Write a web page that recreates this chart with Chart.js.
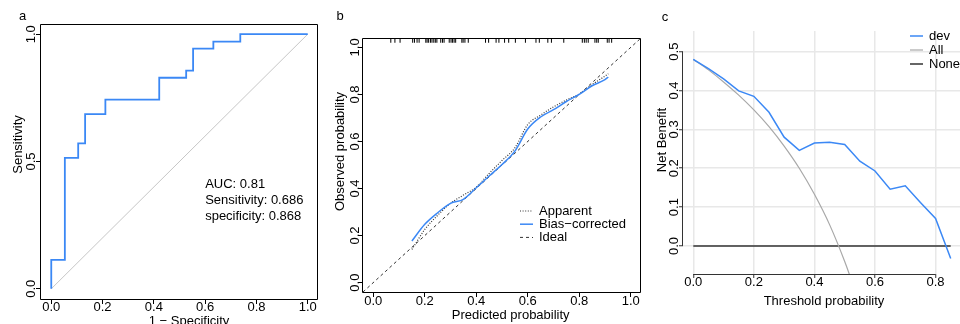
<!DOCTYPE html>
<html>
<head>
<meta charset="utf-8">
<script src="https://cdn.jsdelivr.net/npm/chart.js@4.4.1/dist/chart.umd.min.js"></script>
<style>
  html, body { margin: 0; padding: 0; width: 960px; height: 324px; overflow: hidden; background: #fff; }
  canvas { position: absolute; top: 0; }
</style>
</head>
<body>
<canvas id="rocChart" style="left:0px" width="330" height="324"></canvas>
<canvas id="calChart" style="left:330px" width="320" height="324"></canvas>
<canvas id="dcaChart" style="left:650px" width="312" height="324"></canvas>
<script>
// a: ROC curve (1 - specificity, sensitivity)
const rocFpr = [0, 0, 0.053, 0.105, 0.132, 0.211, 0.421, 0.526, 0.553, 0.632, 0.737, 1];
const rocTpr = [0, 0.114, 0.514, 0.571, 0.686, 0.743, 0.829, 0.857, 0.943, 0.971, 1, 1];
const diagX = [0, 1];
const diagY = [0, 1];
const rocXTicks = [0, 0.2, 0.4, 0.6, 0.8, 1.0];
const rocYTicks = [0, 0.5, 1.0];
const aucLines = ['AUC: 0.81', 'Sensitivity: 0.686', 'specificity: 0.868'];

// b: calibration curve
const calPred = [0.15, 0.2, 0.25, 0.3, 0.35, 0.4, 0.45, 0.5, 0.55, 0.6, 0.65, 0.7, 0.75, 0.8, 0.85, 0.9, 0.913];
const calApparent = [0.141, 0.226, 0.286, 0.337, 0.372, 0.406, 0.464, 0.519, 0.573, 0.672, 0.712, 0.747, 0.776, 0.802, 0.842, 0.878, 0.888];
const calBiasCorrected = [0.177, 0.248, 0.297, 0.337, 0.354, 0.403, 0.453, 0.502, 0.559, 0.653, 0.704, 0.735, 0.770, 0.800, 0.837, 0.863, 0.874];
const idealX = [-0.04, 1.04];
const idealY = [-0.04, 1.04];
const rugPred = [0.068, 0.084, 0.104, 0.153, 0.160, 0.170, 0.178, 0.204, 0.209, 0.215, 0.222, 0.228, 0.235, 0.241, 0.247,
  0.262, 0.269, 0.275, 0.295, 0.302, 0.308, 0.314, 0.320, 0.344, 0.349, 0.356, 0.369, 0.436, 0.448, 0.477, 0.488,
  0.510, 0.526, 0.552, 0.591, 0.632, 0.645, 0.678, 0.692, 0.740, 0.812, 0.820, 0.827, 0.835, 0.861, 0.868, 0.874,
  0.909, 0.916, 0.926];
const calTicks = [0, 0.2, 0.4, 0.6, 0.8, 1.0];

// c: decision curve
const thresholds = [0, 0.05, 0.1, 0.15, 0.2, 0.25, 0.3, 0.35, 0.4, 0.45, 0.5, 0.55, 0.6, 0.65, 0.7, 0.75, 0.8, 0.85];
const nbDev = [0.48, 0.456, 0.430, 0.399, 0.385, 0.344, 0.280, 0.246, 0.265, 0.267, 0.261, 0.218, 0.193, 0.146, 0.155, 0.112, 0.071, -0.032];
const allThresholds = [0, 0.05, 0.1, 0.15, 0.2, 0.25, 0.3, 0.35, 0.4, 0.45, 0.5, 0.55];
const nbAll = [0.48, 0.453, 0.422, 0.388, 0.350, 0.307, 0.257, 0.200, 0.133, 0.055, -0.040, -0.150];
const noneX = [0, 0.85];
const nbNone = [0, 0];
const dcaXTicks = [0, 0.2, 0.4, 0.6, 0.8];
const dcaYTicks = [0, 0.1, 0.2, 0.3, 0.4, 0.5];

const BLUE = '#3b88f5';
const FONT = '13px "Liberation Sans", Arial, Helvetica, sans-serif';

Chart.defaults.font.family = '"Liberation Sans", Arial, Helvetica, sans-serif';
Chart.defaults.font.size = 13;
Chart.defaults.color = '#000';

function pts(xs, ys) {
  return xs.map((x, i) => ({x: x, y: ys[i]}));
}

// axis for the boxed R style panels, ticks outside
function boxAxis(min, max, values, size, pad, vertical) {
  return {
    type: 'linear', min: min, max: max,
    afterBuildTicks: s => { s.ticks = values.map(v => ({value: v})); },
    afterFit: s => { if (vertical) s.width = size; else s.height = size; },
    border: {display: false},
    grid: {drawOnChartArea: false, tickLength: 5, tickColor: '#000', tickWidth: 1},
    ticks: {
      padding: pad, color: '#000', autoSkip: false,
      minRotation: vertical ? 90 : 0, maxRotation: vertical ? 90 : 0,
      crossAlign: vertical ? 'center' : 'near',
      callback: v => v.toFixed(1)
    }
  };
}

// free text: panel letters, axis titles, notes
const panelText = {
  id: 'panelText',
  afterDraw(chart, args, opts) {
    const ctx = chart.ctx;
    ctx.save();
    ctx.font = FONT;
    ctx.fillStyle = '#000';
    (opts.items || []).forEach(t => {
      let x = t.x, y = t.y;
      if (t.data) {
        x = chart.scales.x.getPixelForValue(t.x);
        y = chart.scales.y.getPixelForValue(t.y);
      }
      ctx.save();
      ctx.translate(x, y);
      if (t.rotate) ctx.rotate(-Math.PI / 2);
      ctx.textAlign = t.align || 'center';
      ctx.textBaseline = 'middle';
      ctx.fillText(t.text, 0, 0);
      ctx.restore();
    });
    ctx.restore();
  }
};

// box round the plot region, or R-style axis lines spanning first..last tick
const frame = {
  id: 'frame',
  afterDatasetsDraw(chart, args, opts) {
    const {ctx, chartArea: a, scales} = chart;
    ctx.save();
    ctx.strokeStyle = opts.color || '#000';
    ctx.lineWidth = 1;
    ctx.beginPath();
    if (opts.box) {
      ctx.rect(Math.round(a.left) - 0.5, Math.round(a.top) + 0.5, Math.round(a.right - a.left), Math.round(a.bottom - a.top));
    } else {
      const xt = scales.x.ticks, yt = scales.y.ticks;
      const b = Math.round(a.bottom) + 0.5, l = Math.round(a.left) - 0.5;
      ctx.moveTo(scales.x.getPixelForValue(xt[0].value), b);
      ctx.lineTo(scales.x.getPixelForValue(xt[xt.length - 1].value), b);
      ctx.moveTo(l, scales.y.getPixelForValue(yt[0].value));
      ctx.lineTo(l, scales.y.getPixelForValue(yt[yt.length - 1].value));
    }
    ctx.stroke();
    ctx.restore();
  }
};

// simple legend placed anywhere, styled from the datasets
const placedLegend = {
  id: 'placedLegend',
  afterDraw(chart, args, opts) {
    if (!opts.labels) return;
    const ctx = chart.ctx;
    ctx.save();
    ctx.font = FONT;
    ctx.textBaseline = 'middle';
    ctx.textAlign = 'left';
    opts.labels.forEach((lab, i) => {
      const ds = chart.data.datasets.find(d => d.label === lab);
      const y = opts.y + i * opts.dy;
      ctx.save();
      ctx.strokeStyle = ds.borderColor;
      ctx.lineWidth = ds.borderWidth;
      ctx.setLineDash(ds.borderDash || []);
      ctx.beginPath();
      ctx.moveTo(opts.x, y);
      ctx.lineTo(opts.x + opts.len, y);
      ctx.stroke();
      ctx.restore();
      ctx.fillStyle = '#000';
      ctx.fillText(lab, opts.x + opts.len + opts.gap, y);
    });
    ctx.restore();
  }
};

new Chart(document.getElementById('rocChart'), {
  type: 'line',
  data: {
    datasets: [
      {label: 'ROC', data: pts(rocFpr, rocTpr), stepped: 'before', borderColor: BLUE, borderWidth: 1.8, pointRadius: 0},
      {label: 'chance', data: pts(diagX, diagY), borderColor: '#c6c6c6', borderWidth: 1, pointRadius: 0}
    ]
  },
  options: {
    responsive: false, animation: false,
    layout: {padding: {top: 24, right: 12, left: 0, bottom: 0}},
    scales: {
      x: boxAxis(-0.04, 1.04, rocXTicks, 25, -4, false),
      y: boxAxis(-0.04, 1.04, rocYTicks, 41, -4.5, true)
    },
    plugins: {
      legend: {display: false}, tooltip: {enabled: false},
      frame: {box: true},
      panelText: {items: [
        {text: 'a', x: 22.5, y: 16},
        {text: 'Sensitivity', x: 18, y: 144.5, rotate: true},
        {text: '1 \u2212 Specificity', x: 189, y: 321},
        ...aucLines.map((t, i) => ({text: t, x: 0.6, y: 0.411 - i * 0.063, data: true, align: 'left'}))
      ]}
    }
  },
  plugins: [frame, panelText]
});

new Chart(document.getElementById('calChart'), {
  type: 'line',
  data: {
    datasets: [
      {label: 'rug', type: 'scatter', data: rugPred.map(v => ({x: v, y: 1.03})), pointStyle: 'line', rotation: 90,
        pointRadius: 2.4, borderColor: '#000', borderWidth: 1, showLine: false},
      {label: 'Bias\u2212corrected', data: pts(calPred, calBiasCorrected), borderColor: BLUE, borderWidth: 1.5,
        pointRadius: 0, cubicInterpolationMode: 'monotone'},
      {label: 'Apparent', data: pts(calPred, calApparent), borderColor: '#333', borderWidth: 1.2, borderDash: [1, 1.6],
        pointRadius: 0, cubicInterpolationMode: 'monotone'},
      {label: 'Ideal', data: pts(idealX, idealY), borderColor: '#333', borderWidth: 1, borderDash: [3, 3], pointRadius: 0}
    ]
  },
  options: {
    responsive: false, animation: false,
    layout: {padding: {top: 38, right: 9, left: 0, bottom: 0}},
    scales: {
      x: boxAxis(-0.04, 1.04, calTicks, 32, -3, false),
      y: boxAxis(-0.04, 1.04, calTicks, 33, -6, true)
    },
    plugins: {
      legend: {display: false}, tooltip: {enabled: false},
      frame: {box: true},
      placedLegend: {labels: ['Apparent', 'Bias\u2212corrected', 'Ideal'], x: 190, y: 211, dy: 13.2, len: 13, gap: 6},
      panelText: {items: [
        {text: 'b', x: 10, y: 16},
        {text: 'Observed probability', x: 10, y: 151.5, rotate: true},
        {text: 'Predicted probability', x: 180.7, y: 315}
      ]}
    }
  },
  plugins: [frame, placedLegend, panelText]
});

const dcaGrid = {color: '#e8e8e8', lineWidth: 1.5, tickLength: 4, tickColor: '#333', tickWidth: 1};

new Chart(document.getElementById('dcaChart'), {
  type: 'line',
  data: {
    datasets: [
      {label: 'dev', data: pts(thresholds, nbDev), borderColor: BLUE, borderWidth: 1.5, pointRadius: 0},
      {label: 'All', data: pts(allThresholds, nbAll), borderColor: '#a8a8a8', borderWidth: 1.2, pointRadius: 0,
        cubicInterpolationMode: 'monotone'},
      {label: 'None', data: pts(noneX, nbNone), borderColor: '#333', borderWidth: 1.5, pointRadius: 0}
    ]
  },
  options: {
    responsive: false, animation: false,
    layout: {padding: {top: 31, right: 1, left: 0, bottom: 0}},
    scales: {
      x: {
        type: 'linear', min: -0.034, max: 0.884,
        afterBuildTicks: s => { s.ticks = dcaXTicks.map(v => ({value: v})); },
        afterFit: s => { s.height = 50; },
        border: {display: false},
        grid: dcaGrid,
        ticks: {padding: -3, color: '#000', autoSkip: false, maxRotation: 0, callback: v => v.toFixed(1)}
      },
      y: {
        type: 'linear', min: -0.072, max: 0.553,
        afterBuildTicks: s => { s.ticks = dcaYTicks.map(v => ({value: v})); },
        afterFit: s => { s.width = 33; },
        border: {display: false},
        grid: dcaGrid,
        ticks: {padding: -4, color: '#000', autoSkip: false, minRotation: 90, maxRotation: 90, crossAlign: 'center',
          callback: v => v.toFixed(1)}
      }
    },
    plugins: {
      legend: {display: false}, tooltip: {enabled: false},
      frame: {box: false, color: '#333'},
      placedLegend: {labels: ['dev', 'All', 'None'], x: 260, y: 36, dy: 14, len: 13, gap: 6},
      panelText: {items: [
        {text: 'c', x: 15, y: 17},
        {text: 'Net Benefit', x: 12.7, y: 140, rotate: true},
        {text: 'Threshold probability', x: 174, y: 301.7}
      ]}
    }
  },
  plugins: [frame, placedLegend, panelText]
});
</script>
</body>
</html>
